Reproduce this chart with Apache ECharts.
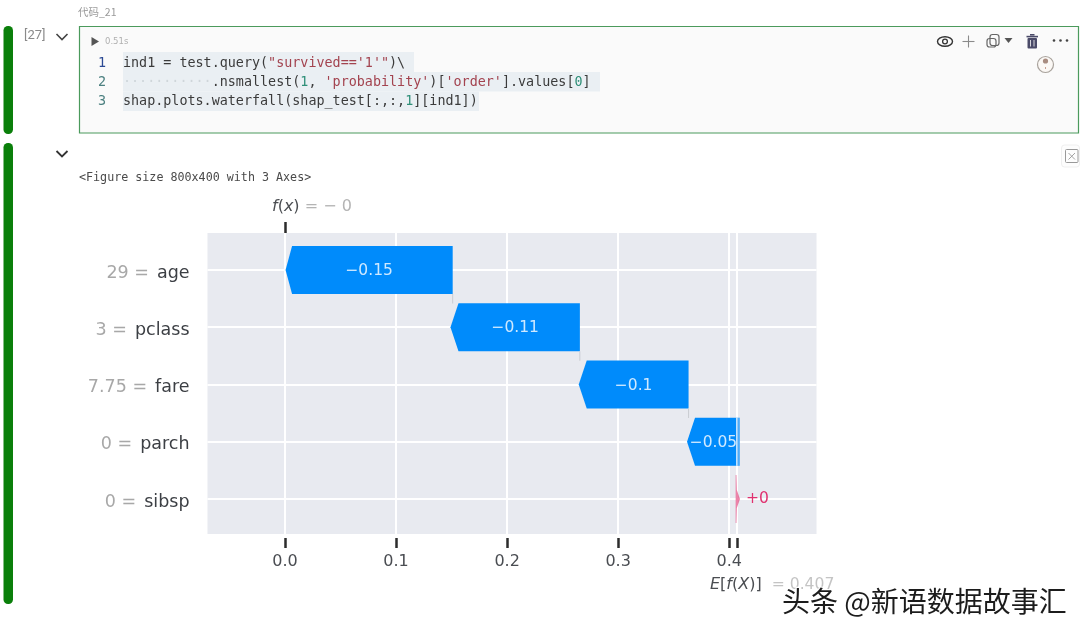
<!DOCTYPE html>
<html><head><meta charset="utf-8">
<style>html,body{margin:0;padding:0;background:#fff}#c{width:1080px;height:633px}</style>
<script src="https://cdn.jsdelivr.net/npm/echarts@6/dist/echarts.min.js"></script>
</head><body><div id="c"></div>
<script>
const featureNames = ['age','pclass','fare','parch','sibsp'];
const featureValues = ['29','3','7.75','0','0'];
const shapLabels = ['\u22120.15','\u22120.11','\u22120.1','\u22120.05','+0'];
const barStarts = [0.151,0.2655,0.3634,0.4095,0.4058];
const barEnds = [0.0005,0.149,0.2645,0.362,0.4097];
const xTicks = [0,0.1,0.2,0.3,0.4];
const baseValue = 0.407;
const outputValue = 0;
const baseText = '0.407';
const outputText = '\u2212 0';

const BLUE='#008bfb', PINK='#e0316f', MONO='"DejaVu Sans Mono", monospace', SANS='"DejaVu Sans", sans-serif';
const DARK='#3c3f44', GREY='#a8a8a8';

const barData = featureNames.map((n,i)=>[barStarts[i],barEnds[i],i,shapLabels[i]]);

function renderBar(params, api){
  const s=api.value(0), e=api.value(1), row=api.value(2), label=api.value(3);
  const [xs,yc]=api.coord([s,row]), [xe]=api.coord([e,row]);
  const h=api.size([0,0.84])[1]/2;
  const children=[];
  if(e<s){
    const head=row===0?6.5:8;
    children.push({type:'polygon',shape:{points:[[xs,yc-h],[xe+head,yc-h],[xe,yc],[xe+head,yc+h],[xs,yc+h]]},style:{fill:BLUE}});
    if(s>baseValue){
      const bx=api.coord([baseValue,row])[0];
      children.push({type:'rect',shape:{x:bx-1,y:yc-h,width:xs-bx+1,height:2*h},style:{fill:'rgba(225,235,245,0.35)'}});
      children.push({type:'rect',shape:{x:bx-1,y:yc-h,width:1.6,height:2*h},style:{fill:'rgba(255,255,255,0.65)'}});
    }
    children.push({type:'text',style:{text:label,x:(xs+xe)/2,y:yc+1,align:'center',verticalAlign:'middle',fill:'#cfe9ff',font:'15.5px '+SANS}});
    if(row<featureNames.length-2){
      children.push({type:'line',shape:{x1:xs,y1:yc+h,x2:xs,y2:yc+h+9.5},style:{stroke:'#c9ccd2',lineWidth:1}});
    }
  } else {
    children.push({type:'polygon',shape:{points:[[xs,yc-h],[xs+0.8,yc-h],[xs+1.2,yc-9],[xe,yc],[xs+1.2,yc+9],[xs+0.8,yc+h],[xs,yc+h]]},style:{fill:PINK,opacity:0.6}});
    children.push({type:'text',style:{text:label,x:xe+6,y:yc,align:'left',verticalAlign:'middle',fill:PINK,font:'15.5px '+SANS}});
  }
  return {type:'group',children};
}

function annotation(fn, val, rich, offX, below){
  return {type:'custom',coordinateSystem:'cartesian2d',silent:true,z:6,clip:false,data:[[val,0]],
    encode:{x:0,y:1},
    renderItem(params,api){
      const cs=params.coordSys;
      return {type:'text',style:{text:fn,rich,x:api.coord([val,0])[0]+offX,y:below?cs.y+cs.height+50.5:cs.y-26,
        align:'left',verticalAlign:'middle',font:'16px '+SANS}};
    }};
}
const annRich={
  m:{fontFamily:'DejaVu Sans',fontStyle:'italic',fontSize:16,fill:'#4b4e52'},
  p:{fontFamily:'DejaVu Sans',fontSize:16,fill:'#4b4e52'},
  g:{fontFamily:'DejaVu Sans',fontSize:16,fill:'#b4b4b4'},
  h:{fontFamily:'DejaVu Sans',fontSize:15.6,fill:'#c4c4c4'}
};

const option={
  animation:false,backgroundColor:'#fff',
  grid:{left:207.5,right:263.5,top:233,bottom:99,show:true,backgroundColor:'#e8eaf0',borderWidth:0},
  xAxis:[
    {type:'value',position:'bottom',min:-0.0698,max:0.4786,offset:4,
      axisLine:{show:false,onZero:false},
      axisTick:{show:true,length:10,lineStyle:{color:'#2c2c2c',width:2.5},customValues:[...xTicks,baseValue]},
      axisLabel:{show:true,margin:16,color:'#4a4d52',fontFamily:SANS,fontSize:16,customValues:xTicks,formatter:v=>v.toFixed(1)},
      splitLine:{show:true,lineStyle:{color:'#fff',width:2}}},
    {type:'value',position:'top',min:-0.0698,max:0.4786,
      axisLine:{show:false,onZero:false},
      axisTick:{show:true,length:11,lineStyle:{color:'#2c2c2c',width:2.5},customValues:[outputValue]},
      axisLabel:{show:false},splitLine:{show:false}}
  ],
  yAxis:{type:'value',inverse:true,min:-0.646,max:4.612,
    axisLine:{show:false,onZero:false},
    axisTick:{show:false,customValues:[0,1,2,3,4]},
    axisLabel:{show:true,margin:18,align:'right',customValues:[0,1,2,3,4],
      formatter:v=>`{v|${featureValues[v]} =}{n|${featureNames[v]}}`,
      rich:{v:{color:GREY,fontFamily:SANS,fontSize:17.5,padding:[6,0,0,0]},n:{color:DARK,fontFamily:SANS,fontSize:17.5,padding:[6,0,0,8]}}},
    splitLine:{show:true,lineStyle:{color:'#fff',width:2}}},
  series:[
    {type:'custom',coordinateSystem:'cartesian2d',renderItem:renderBar,data:barData,encode:{x:[0,1],y:2},z:4,silent:true,clip:false},
    annotation(`{m|f}{p|(}{m|x}{p|)} {g|= ${outputText}}`,outputValue,annRich,-13,false),
    annotation(`{m|E}{p|[}{m|f}{p|(}{m|X}{p|)]} {h| = ${baseText}}`,baseValue,annRich,-27,true)
  ],
  graphic:{elements:buildChrome()}
};

function buildChrome(){
  const G='#0a7f0a', els=[];
  const rect=(x,y,w,h,fill,r,extra)=>els.push(Object.assign({type:'rect',shape:{x,y,width:w,height:h,r:r||0},style:{fill}},extra||{}));
  const text=(t,x,y,font,fill,extra)=>els.push({type:'text',z:100,style:Object.assign({text:t,x,y,font,fill,verticalAlign:'middle'},extra||{})});
  const poly=(pts,stroke,w)=>els.push({type:'polyline',shape:{points:pts},style:{stroke,lineWidth:w||1.5,fill:null}});
  const tri=(pts,fill)=>els.push({type:'polygon',shape:{points:pts},style:{fill}});
  // run bars
  rect(3.5,26,9.5,108,G,4.5);
  rect(3.5,143,9.5,461,G,4.5);
  // cell box
  els.push({type:'rect',shape:{x:79.5,y:26.5,width:999,height:106.5},style:{fill:'#fafafa',stroke:'#4b9a5c',lineWidth:1.2}});
  // code highlights
  rect(123,52,291,20,'#eaeff3');
  rect(123,72,477,19.5,'#eaeff3');
  rect(123,91.5,356,19.5,'#eaeff3');
  // small texts
  text('代码_21',78,12.5,'10.5px "Noto Sans CJK SC"','#9a9a9a');
  text('[27]',24,36,'13px Roboto','#8a8a8a');
  text('0.51s',105,42,'8.5px '+SANS,'#b0b0b0');
  tri([[91.5,37],[99,41.5],[91.5,46]],'#555');
  poly([[56.5,34],[62,39.5],[67.5,34]],'#444',1.6);
  poly([[56.5,151],[62,156.5],[67.5,151]],'#333',1.8);
  // line numbers
  const f='13.4px '+MONO;
  const L=[63.5,82.5,101.5];
  text('1',98,L[0],f,'#2c4a94');
  text('2',98,L[1],f,'#4c8080');
  text('3',98,L[2],f,'#4c8080');
  const fam='DejaVu Sans Mono';
  const rich={d:{fontFamily:fam,fontSize:13.4,fill:'#3b3b3b'},s:{fontFamily:fam,fontSize:13.4,fill:'#a3434f'},
    n:{fontFamily:fam,fontSize:13.4,fill:'#2f8f78'},w:{fontFamily:fam,fontSize:13.4,fill:'#cfd6da'}};
  text('{d|ind1 = test.query(}{s|"survived==\'1\'"}{d|)\\}',123,L[0],f,'#3b3b3b',{rich});
  text('{w|···········}{d|.nsmallest(}{n|1}{d|, }{s|\'probability\'}{d|)[}{s|\'order\'}{d|].values[}{n|0}{d|]}',123,L[1],f,'#3b3b3b',{rich});
  text('{d|shap.plots.waterfall(shap_test[:,:,}{n|1}{d|][ind1])}',123,L[2],f,'#3b3b3b',{rich});
  text('<Figure size 800x400 with 3 Axes>',79,177.5,'11.7px '+MONO,'#4a4a4a');
  // toolbar: eye
  els.push({type:'ellipse',shape:{cx:945,cy:41.5,rx:7.5,ry:4.8},style:{fill:null,stroke:'#333',lineWidth:1.4}});
  els.push({type:'circle',shape:{cx:945,cy:41.5,r:2.4},style:{fill:null,stroke:'#333',lineWidth:1.3}});
  // plus
  poly([[968.5,35.5],[968.5,47.5]],'#8a8a8a',1.1);
  poly([[962.5,41.5],[974.5,41.5]],'#8a8a8a',1.1);
  // python
  els.push({type:'rect',shape:{x:990,y:34.5,width:9,height:11,r:2.5},style:{fill:null,stroke:'#666',lineWidth:1.2}});
  els.push({type:'rect',shape:{x:987,y:38.5,width:9,height:8.5,r:2.5},style:{fill:null,stroke:'#666',lineWidth:1.2}});
  tri([[1004.5,38],[1012.5,38],[1008.5,43]],'#555');
  // trash
  rect(1027.5,38,9.5,10.5,'#4a4a68',1);
  rect(1026.5,35.8,11.5,1.6,'#4a4a68');
  rect(1030,34,4.5,1.6,'#4a4a68');
  poly([[1030.5,40],[1030.5,46.5]],'#fafafa',.8);
  poly([[1034,40],[1034,46.5]],'#fafafa',.8);
  // dots
  [1054,1060.5,1067].forEach(x=>els.push({type:'circle',shape:{cx:x,cy:40.5,r:1.3},style:{fill:'#444'}}));
  // spinner
  els.push({type:'circle',shape:{cx:1045.5,cy:64.5,r:8},style:{fill:'#fbf8f5',stroke:'#a8a29c',lineWidth:1.2}});
  els.push({type:'circle',shape:{cx:1045.5,cy:61,r:2.6},style:{fill:'#a88c80'}});
  poly([[1045.5,67],[1045.5,69]],'#c9a090',1);
  // output clear icon
  els.push({type:'rect',shape:{x:1061.5,y:145,width:18,height:22,r:3},style:{fill:'#fdfdfd',stroke:'#efefef',lineWidth:1}});
  els.push({type:'rect',shape:{x:1065.5,y:149.5,width:12.5,height:13,r:1},style:{fill:null,stroke:'#999',lineWidth:1}});
  poly([[1068.5,153],[1075,159.5]],'#999',.9);
  poly([[1075,153],[1068.5,159.5]],'#999',.9);
  // watermark
  els.push({type:'text',z:200,style:{text:'头条 @新语数据故事汇',x:782,y:601,font:'28px "Noto Sans CJK SC"',fill:'#1c1c1c',
    verticalAlign:'middle',stroke:'#fff',lineWidth:2.5}});
  return els;
}

const chart=echarts.init(document.getElementById('c'),null,{renderer:'canvas',width:1080,height:633});
chart.setOption(option);
</script></body></html>
